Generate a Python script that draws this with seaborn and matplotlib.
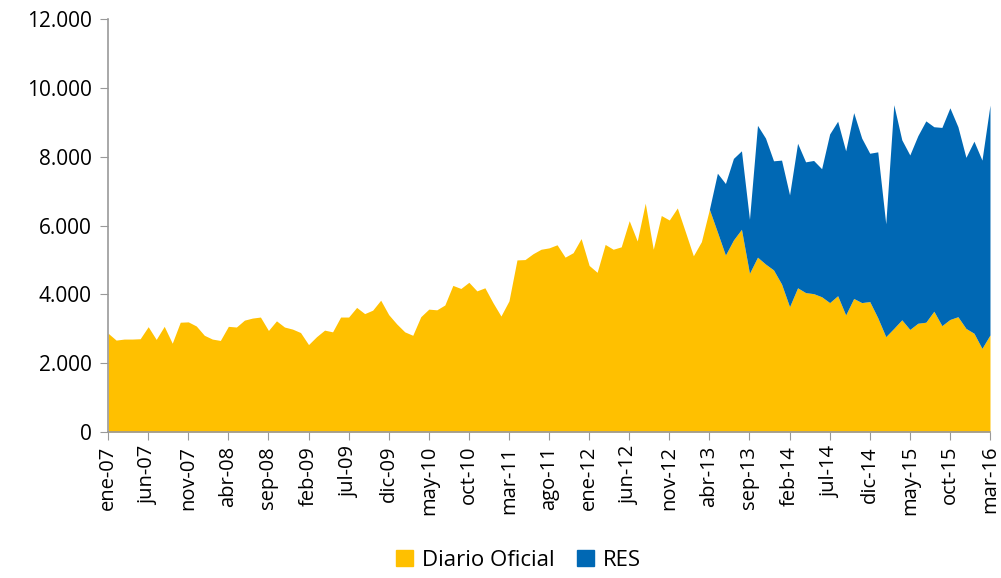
import matplotlib
matplotlib.use('Agg')
import matplotlib.pyplot as plt
import matplotlib.ticker as mticker
from matplotlib.patches import Patch
import numpy as np
import pandas as pd
import seaborn as sns

# monthly series, ene-07 .. mar-16
diario_oficial = [
    2870, 2670, 2700, 2700, 2710, 3060, 2690, 3070, 2580, 3190,
    3200, 3080, 2810, 2700, 2660, 3070, 3050, 3250, 3310, 3340,
    2950, 3230, 3050, 2990, 2890, 2540, 2770, 2960, 2910, 3340,
    3340, 3620, 3440, 3540, 3830, 3410, 3140, 2910, 2810, 3350,
    3570, 3550, 3690, 4260, 4170, 4350, 4100, 4190, 3760, 3370,
    3810, 5000, 5010, 5180, 5310, 5350, 5440, 5080, 5210, 5620,
    4840, 4640, 5450, 5310, 5380, 6140, 5550, 6650, 5310, 6290,
    6160, 6510, 5820, 5120, 5530, 6470, 5810, 5140, 5580, 5890,
    4610, 5080, 4880, 4710, 4300, 3640, 4190, 4050, 4020, 3930,
    3760, 3960, 3400, 3880, 3760, 3790, 3320, 2770, 3010, 3260,
    2980, 3160, 3190, 3510, 3090, 3270, 3350, 3010, 2870, 2430,
    2820,
]
# Diario Oficial + RES, from may-13 on
total = [
    7520, 7220, 7950, 8170, 6180, 8910, 8540, 7880, 7900, 6890,
    8390, 7850, 7890, 7650, 8660, 9030, 8170, 9280, 8540, 8100,
    8140, 6050, 9510, 8490, 8050, 8610, 9040, 8870, 8850, 9420,
    8870, 7980, 8450, 7900, 9500,
]
res = [0] * 76 + [t - d for t, d in zip(total, diario_oficial[76:])]

meses = ['ene', 'feb', 'mar', 'abr', 'may', 'jun',
         'jul', 'ago', 'sep', 'oct', 'nov', 'dic']
fechas = pd.date_range('2007-01-01', '2016-03-01', freq='MS')
etiquetas = [f'{meses[d.month - 1]}-{d.year % 100:02d}' for d in fechas]

df = pd.DataFrame({'mes': np.arange(len(fechas)),
                   'Diario Oficial': diario_oficial,
                   'RES': res})

sns.set_style('white')
plt.rcParams['font.family'] = ['Open Sans', 'DejaVu Sans']
plt.rcParams['text.color'] = 'black'
plt.rcParams['xtick.color'] = 'black'
plt.rcParams['ytick.color'] = 'black'

fig = plt.figure(figsize=(10.01, 5.78), dpi=100)
ax = fig.add_axes([0.108, 0.2526, 0.881, 0.7145])

colores = ['#FFC000', '#0068B4']
ax.stackplot(df['mes'], df['Diario Oficial'], df['RES'],
             colors=colores, linewidth=0)

ax.set_xlim(0, len(fechas) - 1)
ax.set_ylim(0, 12000)
ax.set_xticks(df['mes'][::5])
ax.set_xticklabels(etiquetas[::5], rotation=90, fontsize=14.5)
ax.yaxis.set_major_locator(mticker.MultipleLocator(2000))
ax.yaxis.set_major_formatter(
    mticker.FuncFormatter(lambda v, p: f'{int(v):,}'.replace(',', '.')))
ax.tick_params(axis='y', labelsize=15, length=6, color='#999999', pad=6)
ax.tick_params(axis='x', length=6, color='#999999', pad=4)
ax.tick_params(bottom=True, left=True)

for s in ['top', 'right']:
    ax.spines[s].set_visible(False)
for s in ['left', 'bottom']:
    ax.spines[s].set_color('#999999')
    ax.spines[s].set_linewidth(1.2)

handles = [Patch(color=c) for c in colores]
fig.legend(handles, ['Diario Oficial', 'RES'], loc='lower center',
           bbox_to_anchor=(0.518, -0.022), ncol=2, frameon=False,
           fontsize=16, handlelength=0.75, handleheight=0.75,
           columnspacing=1.0, handletextpad=0.4)

fig.savefig('out.png', dpi=100)
